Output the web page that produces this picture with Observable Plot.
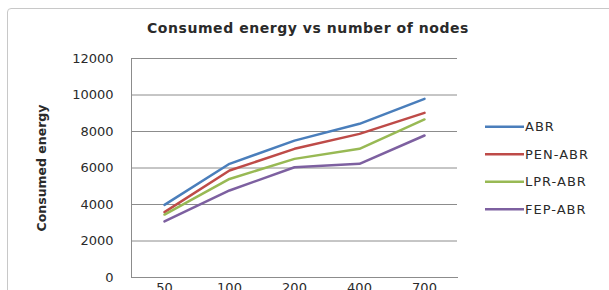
<!DOCTYPE html>
<html><head><meta charset="utf-8">
<script src="https://cdn.jsdelivr.net/npm/d3@7"></script>
<script src="https://cdn.jsdelivr.net/npm/@observablehq/plot@0.6"></script>
<style>
body{margin:0;background:#fff;}
#wrap{position:relative;width:609px;height:290px;overflow:hidden;background:#fff;}
#frame{position:absolute;left:7px;top:8px;width:640px;height:320px;border:1px solid #c8c8c8;border-radius:4px;}
#title{position:absolute;left:108px;width:400px;top:20px;text-align:center;font:bold 14px "DejaVu Sans";color:#2a2a2a;letter-spacing:0.55px;}
svg{position:absolute;left:0;top:0;}
</style></head><body>
<div id="wrap"><div id="frame"></div><div id="title">Consumed energy vs number of nodes</div></div>
<script>
const nodes = ["50","100","200","400","700"];
const series = ["ABR","PEN-ABR","LPR-ABR","FEP-ABR"];
const colors = ["#4A7EBB","#BE4B48","#98B954","#7D60A0"];
const abr = [3980,6230,7500,8420,9790];
const pen = [3580,5860,7050,7870,9020];
const lpr = [3450,5400,6500,7050,8660];
const fep = [3070,4770,6040,6230,7780];
const yTicks = [0,2000,4000,6000,8000,10000,12000];

const vals = [abr,pen,lpr,fep];
const data = [];
series.forEach((s,i)=>nodes.forEach((n,j)=>data.push({series:s,nodes:n,value:vals[i][j]})));

const chart = Plot.plot({
  width:609, height:290,
  marginLeft:131, marginRight:152, marginTop:58, marginBottom:13,
  style:{fontFamily:"DejaVu Sans",fontSize:"13px",color:"#2a2a2a",background:"transparent"},
  x:{type:"point",domain:nodes,padding:0.5},
  y:{domain:[0,12000]},
  color:{domain:series,range:colors},
  marks:[
    Plot.gridY(yTicks,{stroke:"#8c8c8c",strokeOpacity:1,strokeWidth:1}),
    Plot.frame({anchor:"left",stroke:"#8c8c8c"}),
    Plot.frame({anchor:"bottom",stroke:"#8c8c8c"}),
    Plot.axisY(yTicks,{tickSize:0,tickPadding:18,label:null,tickFormat:d=>String(d),fill:"#2a2a2a",fontSize:13,letterSpacing:1}),
    Plot.axisX({tickSize:0,tickPadding:5,label:null,fill:"#2a2a2a",fontSize:13,letterSpacing:1}),
    Plot.line(data,{x:"nodes",y:"value",z:"series",stroke:"series",strokeWidth:2.5}),
  ]
});
document.getElementById("wrap").appendChild(chart);
const svg = d3.select(chart);
svg.append("text").attr("transform","translate(42,168) rotate(-90)").attr("text-anchor","middle").attr("dy","0.35em")
  .attr("font-family","DejaVu Sans").attr("font-weight","bold").attr("font-size","12.5px").attr("fill","#2a2a2a").text("Consumed energy");
const lg = svg.append("g");
series.forEach((s,i)=>{
  const y = 126.7 + i*27.5;
  lg.append("line").attr("x1",485).attr("x2",524).attr("y1",y).attr("y2",y).attr("stroke",colors[i]).attr("stroke-width",2.5);
  lg.append("text").attr("x",525).attr("y",y).attr("dy","0.36em").attr("text-anchor","start").attr("font-family","DejaVu Sans").attr("font-size","13px").attr("letter-spacing","1px").attr("fill","#2a2a2a").text(s);
});
</script>
</body></html>
